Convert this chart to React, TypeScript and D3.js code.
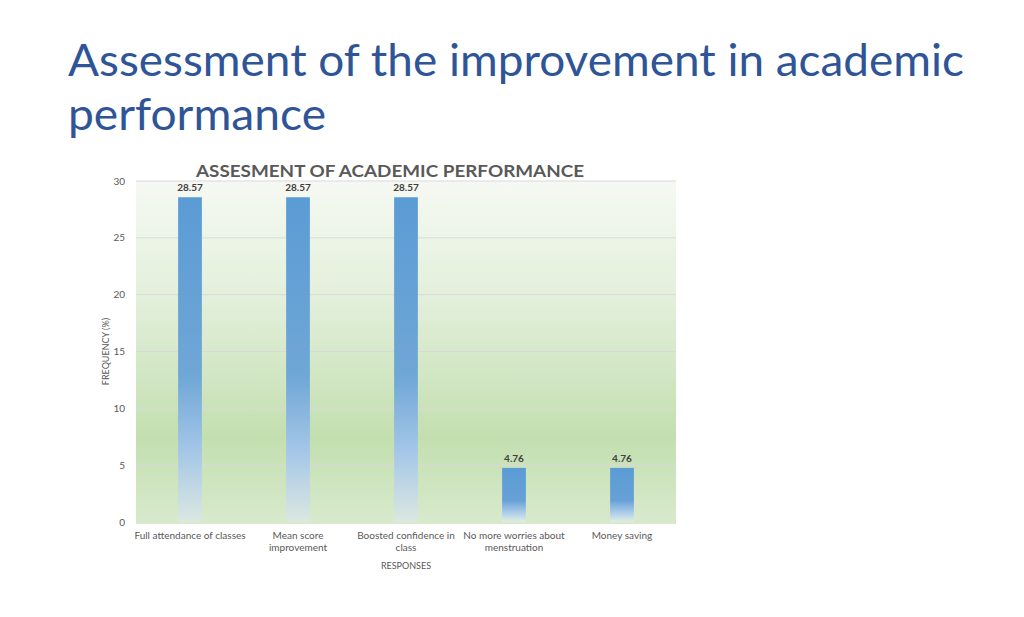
import React from "react";
import * as d3 from "d3";

const categories = [
  ["Full attendance of classes"],
  ["Mean score", "improvement"],
  ["Boosted confidence in", "class"],
  ["No more worries about", "menstruation"],
  ["Money saving"],
];
const values = [28.57, 28.57, 28.57, 4.76, 4.76];
const yTicks = [0, 5, 10, 15, 20, 25, 30];

const W = 1024;
const H = 617;
const plot = { left: 136, right: 676, top: 181, bottom: 522 };

export default function App() {
  const x = d3
    .scaleBand<number>()
    .domain(values.map((_, i) => i))
    .range([plot.left, plot.right])
    .paddingInner(0.78)
    .paddingOuter(0.39);
  const y = d3.scaleLinear().domain([0, 30]).range([plot.bottom, plot.top]);
  const font = "Lato, 'Open Sans', sans-serif";

  return (
    <svg
      width={W}
      height={H}
      style={{ position: "absolute", left: 0, top: 0, background: "#fff" }}
    >
      <defs>
        <linearGradient id="bg" x1="0" y1="0" x2="0" y2="1">
          <stop offset="0" stopColor="#f6f9f3" />
          <stop offset="0.35" stopColor="#e2efda" />
          <stop offset="0.75" stopColor="#c3dfb0" />
          <stop offset="1" stopColor="#d8eacd" />
        </linearGradient>
        <linearGradient id="bar" x1="0" y1="0" x2="0" y2="1">
          <stop offset="0" stopColor="#5b9bd5" />
          <stop offset="0.55" stopColor="#6fa7d6" />
          <stop offset="0.78" stopColor="#a4c6e8" />
          <stop offset="1" stopColor="#dce8e0" />
        </linearGradient>
        <linearGradient id="barS" x1="0" y1="0" x2="0" y2="1">
          <stop offset="0" stopColor="#5b9bd5" />
          <stop offset="0.6" stopColor="#66a1d6" />
          <stop offset="0.85" stopColor="#b3d1ec" />
          <stop offset="1" stopColor="#e4eee0" />
        </linearGradient>
      </defs>

      <text
        x={68}
        y={76}
        fill="#2f5597"
        fontFamily={font}
        fontSize={44}
        textLength={896}
        lengthAdjust="spacingAndGlyphs"
      >
        Assessment of the improvement in academic
      </text>
      <text
        x={68}
        y={130}
        fill="#2f5597"
        fontFamily={font}
        fontSize={44}
        textLength={258}
        lengthAdjust="spacingAndGlyphs"
      >
        performance
      </text>

      <rect
        x={plot.left}
        y={plot.top}
        width={plot.right - plot.left}
        height={plot.bottom - plot.top + 2}
        fill="url(#bg)"
      />

      {yTicks.map((t) => (
        <g key={t}>
          {t > 0 && (
            <line
              x1={plot.left}
              x2={plot.right}
              y1={y(t)}
              y2={y(t)}
              stroke="#d9d9d9"
              strokeWidth={1}
            />
          )}
          <text
            x={125}
            y={y(t) + 3.5}
            textAnchor="end"
            fill="#595959"
            fontFamily={font}
            fontSize={10}
          >
            {t}
          </text>
        </g>
      ))}

      <text
        x={390}
        y={177}
        textAnchor="middle"
        fill="#595959"
        fontFamily={font}
        fontWeight="bold"
        fontSize={17}
        textLength={388}
        lengthAdjust="spacingAndGlyphs"
      >
        ASSESMENT OF ACADEMIC PERFORMANCE
      </text>

      {values.map((v, i) => (
        <g key={i}>
          <rect
            x={x(i)}
            y={y(v)}
            width={x.bandwidth()}
            height={y(0) - y(v)}
            fill={v > 10 ? "url(#bar)" : "url(#barS)"}
          />
          <text
            x={(x(i) as number) + x.bandwidth() / 2}
            y={y(v) - 6}
            textAnchor="middle"
            fill="#404040"
            fontFamily={font}
            fontWeight="bold"
            fontSize={10}
          >
            {v.toFixed(2)}
          </text>
        </g>
      ))}

      {categories.map((lines, i) => (
        <text
          key={i}
          x={(x(i) as number) + x.bandwidth() / 2}
          y={539}
          textAnchor="middle"
          fill="#595959"
          fontFamily={font}
          fontSize={10}
        >
          {lines.map((l, j) => (
            <tspan key={j} x={(x(i) as number) + x.bandwidth() / 2} dy={j === 0 ? 0 : 12}>
              {l}
            </tspan>
          ))}
        </text>
      ))}

      <text
        x={406}
        y={569}
        textAnchor="middle"
        fill="#595959"
        fontFamily={font}
        fontSize={9}
      >
        RESPONSES
      </text>
      <text
        transform={`translate(109, ${(plot.top + plot.bottom) / 2}) rotate(-90)`}
        textAnchor="middle"
        fill="#595959"
        fontFamily={font}
        fontSize={9}
      >
        FREQUENCY (%)
      </text>
    </svg>
  );
}
